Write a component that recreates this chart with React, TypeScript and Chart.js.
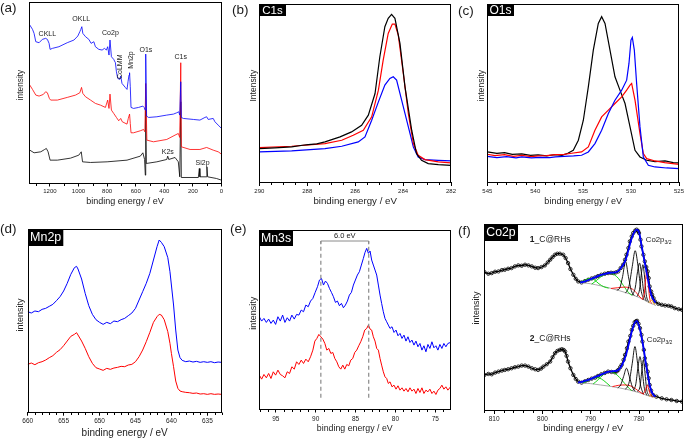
import React, { useEffect, useRef } from 'react';
import { Chart, registerables } from 'chart.js';
Chart.register(...registerables);

const FONT = "'Liberation Sans', Arial, Helvetica, sans-serif";
type Pair = [number, number];

// ---------- (a) survey ----------
const surveyTicks = [0, 200, 400, 600, 800, 1000, 1200];
const surveyBlue: Pair[] = [[1341,470],[1322,457],[1311,445],[1299,420],[1276,417],[1253,427],[1230,430],[1218,427],[1206,415],[1199,397],[1183,400],[1137,405],[1079,417],[1032,425],[1005,437],[991,450],[984,457],[977,465],[970,445],[951,435],[928,427],[912,415],[893,420],[882,405],[858,397],[835,395],[819,400],[805,395],[796,405],[787,380],[780,425],[770,375],[754,367],[742,357],[735,330],[726,310],[712,307],[705,317],[696,295],[673,283],[661,277],[654,300],[647,320],[643,327],[638,285],[633,223],[615,220],[580,223],[550,227],[541,223],[534,215],[530,383],[524,197],[510,193],[452,195],[383,200],[336,203],[313,207],[299,210],[292,200],[285,300],[281,193],[267,190],[197,187],[151,185],[116,193],[104,195],[93,187],[58,190],[46,180],[23,170],[0,160]];
const surveyRed: Pair[] = [[1341,290],[1322,277],[1299,260],[1276,257],[1246,262],[1230,270],[1218,267],[1204,250],[1195,245],[1148,245],[1079,253],[1021,260],[991,267],[979,283],[970,265],[951,255],[916,245],[882,235],[847,230],[812,223],[796,245],[787,220],[780,263],[770,215],[754,205],[735,193],[719,183],[705,190],[694,180],[661,173],[652,190],[643,203],[638,175],[633,147],[615,147],[568,153],[545,157],[536,150],[530,295],[522,125],[476,120],[383,127],[325,140],[302,145],[292,133],[285,357],[281,105],[220,97],[151,97],[104,103],[58,95],[23,90],[0,83]];
const surveyBlack: Pair[] = [[1341,95],[1311,87],[1264,90],[1237,97],[1225,100],[1213,90],[1199,65],[1148,65],[1056,71],[998,80],[981,90],[972,60],[916,58],[800,60],[661,65],[568,77],[550,87],[538,67],[533,20],[530,215],[526,55],[452,60],[383,67],[376,77],[369,67],[325,73],[302,60],[292,15],[285,240],[281,13],[162,13],[155,40],[151,15],[107,15],[102,45],[97,15],[35,10],[0,5]];

// ---------- (b) C1s ----------
const c1sTicks = [282, 284, 286, 288, 290];
const c1sBlack: Pair[] = [[290,100],[289.35,102],[288.65,105],[288.2,110],[287.96,112],[287.6,114],[287.26,120],[286.63,135],[286.15,150],[285.73,170],[285.45,200],[285.17,265],[284.97,375],[284.76,465],[284.62,490],[284.48,502],[284.34,490],[284.13,415],[283.92,285],[283.64,155],[283.44,85],[283.23,65],[282.95,55],[282.53,52],[282,50]];
const c1sRed: Pair[] = [[290,103],[288.65,107],[287.26,115],[286.56,125],[286.08,140],[285.66,155],[285.31,195],[285.03,275],[284.83,365],[284.62,445],[284.45,473],[284.34,473],[284.2,440],[283.99,325],[283.78,205],[283.57,115],[283.37,80],[283.09,67],[282.53,60],[282,57]];
const c1sBlue: Pair[] = [[290,90],[288.65,93],[287.26,100],[286.56,107],[285.87,120],[285.59,135],[285.31,185],[285.03,240],[284.76,290],[284.55,310],[284.41,315],[284.27,305],[284.06,245],[283.78,165],[283.57,105],[283.37,75],[283.09,67],[282.53,65],[282,63]];

// ---------- (c) O1s ----------
const o1sTicks = [525, 530, 535, 540, 545];
const o1sBlack: Pair[] = [[545,90],[544,86],[543.2,88],[542.4,83],[541.4,84],[540.5,80],[539.7,81],[538.8,78],[537.9,82],[537.2,80],[536.6,86],[536.03,95],[535.5,125],[534.98,185],[534.46,285],[533.94,395],[533.42,475],[533.07,495],[532.72,475],[532.2,395],[531.68,315],[531.16,275],[530.63,235],[530.11,165],[529.59,95],[529.07,75],[528.37,65],[527.5,61],[526.46,63],[525.6,58],[525,57]];
const o1sRed: Pair[] = [[545,83],[544.2,79],[543.2,82],[542.3,77],[541.4,80],[540.4,76],[539.7,78],[538.8,79],[537.9,82],[537,83],[536.2,86],[535.16,90],[534.46,105],[533.77,155],[533.07,195],[532.37,215],[531.68,235],[530.98,255],[530.46,275],[530.11,290],[529.94,295],[529.59,245],[529.07,145],[528.72,85],[528.37,70],[527.5,63],[526.5,58],[525,53]];
const o1sBlue: Pair[] = [[545,77],[544,73],[543,76],[542,72],[541.4,75],[540.4,72],[539.5,74],[538.5,73],[537.9,75],[537,77],[536,78],[535.16,80],[534.46,90],[533.77,115],[533.07,155],[532.37,205],[531.68,245],[530.98,275],[530.46,305],[530.22,355],[530.01,425],[529.87,433],[529.66,395],[529.42,295],[529.07,165],[528.72,75],[528.2,50],[527.5,45],[526.3,42],[525,40]];

// ---------- (d) Mn2p ----------
const mn2pTicks = [635, 640, 645, 650, 655, 660];
const mn2pEnergy = [660,659.5,659,658.5,658,657.5,657,656.5,656,655.5,655,654.5,654,653.5,653.2,653,652.5,652,651.5,651,650.5,650,649.5,649,648.5,648,647.5,647,646.5,646,645.5,645,644.5,644,643.5,643,642.5,642,641.7,641.4,641,640.5,640.2,640,639.7,639.4,639.1,638.8,638.5,638,637.5,637,636.5,636,635.5,635,634.5,634,633.5,633];
const mn2pBlue = [300,296,302,300,307,310,316,322,333,345,362,385,412,432,436,428,398,355,318,292,276,268,262,268,264,272,270,276,280,288,296,310,335,360,385,415,455,495,515,508,495,462,420,380,320,245,185,162,154,150,152,149,151,148,150,148,150,147,149,148];
const mn2pRed = [142,146,141,147,150,155,162,168,178,186,198,212,226,232,237,230,212,190,165,145,132,128,124,130,127,131,133,136,135,140,142,150,165,185,210,238,268,285,292,290,276,240,205,175,135,92,70,62,60,58,57,55,56,53,54,52,54,52,53,52];

// ---------- (e) Mn3s ----------
const mn3sTicks = [75, 80, 85, 90, 95];
const mn3sBlue: Pair[] = [[97.06,275],[96.77,262],[96.48,270],[96.18,258],[95.89,268],[95.6,255],[95.31,265],[95.02,252],[94.73,275],[94.43,262],[94.14,280],[93.85,258],[93.56,272],[93.27,262],[92.98,280],[92.68,268],[92.39,282],[92.1,280],[91.81,295],[91.52,290],[91.23,310],[90.93,305],[90.64,322],[90.35,330],[90.06,348],[89.77,365],[89.52,385],[89.27,390],[89.02,370],[88.77,382],[88.52,375],[88.27,360],[88.02,348],[87.77,335],[87.52,318],[87.27,322],[87.02,308],[86.77,315],[86.52,302],[86.27,310],[86.02,322],[85.77,340],[85.52,348],[85.27,370],[85.02,385],[84.77,400],[84.52,410],[84.27,430],[84.02,450],[83.81,468],[83.6,480],[83.39,465],[83.18,472],[82.98,445],[82.77,430],[82.56,415],[82.35,400],[82.14,370],[81.93,340],[81.73,315],[81.52,290],[81.31,270],[81.1,260],[80.89,250],[80.68,240],[80.43,245],[80.18,228],[79.93,235],[79.68,218],[79.43,225],[79.18,210],[78.93,220],[78.68,202],[78.43,215],[78.18,198],[77.93,205],[77.68,190],[77.43,202],[77.18,185],[76.93,195],[76.68,175],[76.43,188],[76.18,170],[75.93,192],[75.68,180],[75.43,200],[75.18,182],[74.93,188],[74.68,175],[74.43,192],[74.18,180],[73.93,195],[73.68,185],[73.43,195],[73.1,198]];
const mn3sRed: Pair[] = [[97.06,100],[96.77,88],[96.48,102],[96.18,92],[95.89,105],[95.6,90],[95.31,110],[95.02,100],[94.73,115],[94.43,102],[94.14,98],[93.85,92],[93.56,110],[93.27,105],[92.98,125],[92.68,118],[92.39,140],[92.1,132],[91.81,145],[91.52,135],[91.23,148],[90.93,140],[90.64,155],[90.35,175],[90.1,202],[89.85,210],[89.6,222],[89.35,215],[89.1,208],[88.85,195],[88.6,175],[88.35,180],[88.1,165],[87.85,168],[87.6,150],[87.35,140],[87.1,125],[86.85,118],[86.6,130],[86.35,118],[86.1,132],[85.85,128],[85.6,145],[85.35,150],[85.1,168],[84.85,175],[84.6,188],[84.35,200],[84.1,215],[83.85,235],[83.6,240],[83.39,250],[83.18,238],[82.98,235],[82.77,215],[82.56,202],[82.35,180],[82.14,175],[81.93,150],[81.73,130],[81.52,110],[81.31,95],[81.1,90],[80.89,75],[80.68,80],[80.43,65],[80.18,70],[79.93,58],[79.68,68],[79.43,55],[79.18,62],[78.93,52],[78.68,60],[78.43,50],[78.18,62],[77.93,52],[77.68,58],[77.43,45],[77.18,60],[76.93,48],[76.68,62],[76.43,45],[76.18,55],[75.93,50],[75.68,58],[75.43,45],[75.18,52],[74.93,42],[74.68,55],[74.43,60],[74.18,70],[73.93,58],[73.68,65],[73.43,55],[73.1,65]];
const mn3sSplit = [89.35, 83.35];

// ---------- (f) Co2p ----------
const co2pTicks = [780, 790, 800, 810];
const co2pData1: Pair[] = [[812.0,413],[811.2,408],[810.5,410],[809.8,414],[809.1,415],[808.4,419],[807.8,420],[807.1,423],[806.4,425],[805.7,430],[805.0,433],[804.3,432],[803.6,435],[802.9,433],[802.2,430],[801.5,426],[800.9,425],[800.2,428],[799.5,433],[798.9,442],[798.4,450],[797.9,458],[797.4,465],[796.9,468],[796.4,468],[795.7,465],[795.2,455],[794.7,440],[794.2,422],[793.6,405],[793.1,393],[792.6,385],[791.9,382],[791.2,386],[790.5,390],[789.8,394],[789.1,397],[788.5,401],[787.8,405],[787.1,408],[786.4,410],[785.8,411],[785.3,410],[784.8,412],[784.3,415],[783.8,425],[783.3,435],[782.9,450],[782.6,465],[782.2,485],[781.9,505],[781.5,520],[781.2,530],[780.8,537],[780.5,540],[780.2,536],[780.0,530],[779.7,510],[779.5,490],[779.1,465],[778.8,445],[778.5,428],[778.2,415],[778.0,395],[777.8,370],[777.5,355],[777.3,345],[777.0,335],[776.7,325],[776.0,318],[775.3,315],[774.6,313],[773.9,312],[773.3,310],[772.6,305],[771.8,302],[771.1,300]];
const co2pData2: Pair[] = [[812.0,105],[811.2,108],[810.5,107],[809.8,112],[809.1,115],[808.4,118],[807.8,120],[807.1,122],[806.4,125],[805.7,128],[805.0,130],[804.3,133],[803.6,133],[802.9,130],[802.2,125],[801.5,122],[800.9,120],[800.3,124],[799.8,130],[799.1,137],[798.4,145],[797.9,158],[797.4,170],[796.9,177],[796.4,180],[796.0,182],[795.6,180],[795.3,175],[795.0,162],[794.7,145],[794.2,125],[793.6,105],[793.1,93],[792.6,85],[791.9,82],[791.2,86],[790.5,90],[789.8,94],[789.1,97],[788.5,102],[787.8,107],[787.1,111],[786.4,115],[785.7,114],[785.0,113],[784.6,116],[784.3,120],[783.9,128],[783.6,135],[783.2,150],[782.9,165],[782.5,185],[782.2,205],[781.8,222],[781.5,240],[781.2,252],[780.9,263],[780.6,266],[780.4,267],[780.1,258],[779.8,245],[779.5,225],[779.3,205],[779.0,180],[778.8,155],[778.5,135],[778.2,115],[778.0,95],[777.8,75],[777.5,58],[777.1,45],[776.4,40],[775.3,35],[774.3,32],[773.3,30],[772.2,27],[771.1,25]];
const co2pBg1: Pair[] = [[792.2,382],[790,378],[788,372],[786,365],[784,357],[782,348],[780,337],[779,330],[778,322],[777,316],[776.5,313]];
const co2pGreen1a: Pair[] = [[792.2,382],[791.3,388],[790.3,394],[789.3,390],[788.3,378],[787.3,369],[786.3,365]];
const co2pGreen1b: Pair[] = [[789.8,377],[788.8,388],[787.8,400],[786.8,408],[786,410],[785.2,406],[784.2,393],[783.2,372],[782.2,352],[781.4,343]];
const co2pRedB1: Pair[] = [[785.8,364],[784.5,366],[783,368],[781.6,364],[780.6,352],[779.8,338],[779.2,331]];
const co2pPk1a: Pair[] = [[784.6,359],[784.0,365],[783.4,400],[782.8,445],[782.2,400],[781.6,358],[781.0,343]];
const co2pPk1b: Pair[] = [[782.8,350],[782.1,370],[781.4,430],[780.8,477],[780.2,430],[779.6,360],[779.0,330]];
const co2pPk1c: Pair[] = [[781.4,344],[780.8,365],[780.3,415],[779.9,440],[779.5,410],[779.0,350],[778.5,326]];
const co2pPk1d: Pair[] = [[780.4,340],[779.9,360],[779.5,410],[779.2,435],[778.9,405],[778.5,345],[778.0,322]];
const co2pRed1: Pair[] = [[779.3,331],[778.9,350],[778.6,395],[778.4,417],[778.1,380],[777.8,335],[777.4,319]];
const co2pOr1: Pair[] = [[778.0,322],[777.6,326],[777.3,330],[777.0,320],[776.7,315]];
const co2pEnv1: Pair[] = [[792.2,382],[791,386],[790,392],[789,398],[788,404],[787,408],[786,411],[785,412],[784.3,416],[783.6,428],[783,442],[782.5,462],[782,490],[781.5,515],[781,532],[780.5,540],[780,532],[779.5,495],[779,455],[778.6,425],[778.2,395],[777.8,365],[777.4,342],[777,330],[776.6,322]];
const co2pBg2: Pair[] = [[792.6,82],[790,79],[788,75],[786,71],[784,66],[782,60],[780,52],[779,47],[778,42],[777,38],[776.5,36]];
const co2pGreen2a: Pair[] = [[791.6,81],[790.6,88],[789.6,95],[788.8,97],[787.8,93],[786.8,82],[786,72]];
const co2pGreen2b: Pair[] = [[789.5,78],[788.5,90],[787.5,105],[786.5,114],[786,115],[785,110],[784,97],[783,80],[782,64],[781.5,58]];
const co2pRedB2: Pair[] = [[785.5,70],[784.2,74],[782.8,75],[781.4,70],[780.4,60],[779.6,52],[779,47]];
const co2pPk2a: Pair[] = [[784.4,66],[783.8,75],[783.2,100],[782.6,125],[782.0,100],[781.4,70],[780.8,56]];
const co2pPk2b: Pair[] = [[782.8,62],[782.1,80],[781.4,140],[780.85,190],[780.3,140],[779.7,75],[779.1,48]];
const co2pPk2c: Pair[] = [[781.3,58],[780.7,75],[780.2,130],[779.8,160],[779.4,125],[778.9,65],[778.4,44]];
const co2pPk2d: Pair[] = [[780.3,55],[779.8,70],[779.4,120],[779.1,150],[778.8,115],[778.4,60],[777.9,42]];
const co2pRed2: Pair[] = [[779.2,48],[778.8,55],[778.5,68],[778.3,75],[778.0,62],[777.6,44],[777.2,39]];
const co2pOr2: Pair[] = [[777.9,41],[777.5,45],[777.2,47],[776.9,40],[776.6,37]];
const co2pEnv2: Pair[] = [[792.6,82],[791.5,86],[790.5,90],[789.5,96],[788.5,102],[787.5,108],[786.5,114],[785.5,116],[784.5,118],[783.8,128],[783.2,145],[782.6,170],[782,205],[781.5,235],[781,258],[780.5,267],[780,252],[779.5,220],[779,180],[778.6,140],[778.2,105],[777.8,75],[777.4,55],[777,45],[776.6,40]];

const pts = (p: Pair[]) => p.map(([x, y]) => ({ x, y }));
const zip = (xs: number[], ys: number[]) => xs.map((x, i) => ({ x, y: ys[i] }));

type Seg = { t: string; bold?: boolean; sub?: boolean };
type Note = { x: number; y: number; text?: string; segs?: Seg[]; size: number; rotate?: boolean; align?: 'left' | 'center' };
type Series = { data: { x: number; y: number }[]; color: string; width: number; dots?: boolean; smooth?: boolean };
type PanelCfg = {
  key: string; left: number; top: number; w: number; h: number;
  area: { l: number; t: number; r: number; b: number };
  xMin: number; xMax: number; majors: number[]; minor: number;
  yMin: number; yMax: number;
  tickFont: number; tickPad: number; titleSize: number; titlePad: number;
  yTitle: { text: string; x: number; y: number; size: number };
  tag?: { text: string; w: number; h: number; size: number };
  series: Series[]; notes?: Note[];
  vlines?: { x: number; y0: number; y1: number }[];
  bracket?: { x0: number; x1: number; y: number; drop: number };
};

const BLUE = '#0000ff', RED = '#ff0000', BLACK = '#000000', GREEN = '#00d000', GRAY = '#a0a0a0', ORANGE = '#ff9900';

const comp = (p: Pair[], color: string): Series => ({ data: pts(p), color, width: 0.9, smooth: true });

const panels: PanelCfg[] = [
  {
    key: 'a', left: 0, top: 0, w: 235, h: 215, area: { l: 28.5, t: 2, r: 221.5, b: 182.5 },
    xMin: 0, xMax: 1350, majors: surveyTicks, minor: 100, yMin: -2, yMax: 539,
    tickFont: 6, tickPad: 0.9, titleSize: 9, titlePad: 7.9,
    yTitle: { text: 'intensity', x: 20.5, y: 85, size: 8.3 },
    series: [
      { data: pts(surveyBlack), color: BLACK, width: 0.8 },
      { data: pts(surveyRed), color: RED, width: 0.8 },
      { data: pts(surveyBlue), color: BLUE, width: 0.8 },
    ],
    notes: [
      { x: 1218, y: 442, text: 'CKLL', size: 7 },
      { x: 981, y: 488, text: 'OKLL', size: 7 },
      { x: 777, y: 445, text: 'Co2p', size: 7 },
      { x: 712, y: 345, text: 'CoLMM', size: 7, rotate: true },
      { x: 633, y: 365, text: 'Mn2p', size: 7, rotate: true },
      { x: 529, y: 395, text: 'O1s', size: 7 },
      { x: 285, y: 373, text: 'C1s', size: 7 },
      { x: 376, y: 90, text: 'K2s', size: 7 },
      { x: 132, y: 55, text: 'Si2p', size: 7 },
    ],
  },
  {
    key: 'b', left: 235, top: 0, w: 225, h: 215, area: { l: 24.3, t: 4, r: 216, b: 182 },
    xMin: 282, xMax: 290, majors: c1sTicks, minor: 0.5, yMin: 0, yMax: 533,
    tickFont: 6, tickPad: 1.4, titleSize: 9.7, titlePad: 8.2,
    yTitle: { text: 'Intensity', x: 18.3, y: 85.7, size: 8.5 },
    tag: { text: 'C1s', w: 27, h: 12, size: 11.5 },
    series: [
      { data: pts(c1sBlue), color: BLUE, width: 1.2 },
      { data: pts(c1sRed), color: RED, width: 1.2 },
      { data: pts(c1sBlack), color: BLACK, width: 1.2 },
    ],
  },
  {
    key: 'c', left: 460, top: 0, w: 225, h: 215, area: { l: 27.3, t: 4, r: 219, b: 182 },
    xMin: 525, xMax: 545, majors: o1sTicks, minor: 1, yMin: 0, yMax: 533,
    tickFont: 6, tickPad: 2.1, titleSize: 9, titlePad: 7.9,
    yTitle: { text: 'intensity', x: 21.7, y: 85.7, size: 8.6 },
    tag: { text: 'O1s', w: 27, h: 12, size: 12 },
    series: [
      { data: pts(o1sBlack), color: BLACK, width: 1.2 },
      { data: pts(o1sRed), color: RED, width: 1.2 },
      { data: pts(o1sBlue), color: BLUE, width: 1.2 },
    ],
  },
  {
    key: 'd', left: 0, top: 215, w: 235, h: 224, area: { l: 27.7, t: 14, r: 221.7, b: 196.7 },
    xMin: 633, xMax: 660, majors: mn2pTicks, minor: 1, yMin: 0, yMax: 548,
    tickFont: 6.5, tickPad: 1.4, titleSize: 10, titlePad: 0,
    yTitle: { text: 'intensity', x: 20.7, y: 100, size: 9 },
    tag: { text: 'Mn2p', w: 35.3, h: 17, size: 12.5 },
    series: [
      { data: zip(mn2pEnergy, mn2pRed), color: RED, width: 1 },
      { data: zip(mn2pEnergy, mn2pBlue), color: BLUE, width: 1 },
    ],
  },
  {
    key: 'e', left: 235, top: 215, w: 225, h: 224, area: { l: 24, t: 15, r: 215.5, b: 193.5 },
    xMin: 73.1, xMax: 97.1, majors: mn3sTicks, minor: 1, yMin: 0, yMax: 535,
    tickFont: 6.5, tickPad: 2.6, titleSize: 8.8, titlePad: 5.4,
    yTitle: { text: 'intensity', x: 18.3, y: 98.3, size: 9 },
    tag: { text: 'Mn3s', w: 34, h: 16, size: 12.3 },
    series: [
      { data: pts(mn3sRed), color: RED, width: 1 },
      { data: pts(mn3sBlue), color: BLUE, width: 1 },
    ],
    vlines: mn3sSplit.map((x) => ({ x, y0: 32, y1: 502 })),
    bracket: { x0: mn3sSplit[0], x1: mn3sSplit[1], y: 502, drop: 10 },
    notes: [{ x: 86.35, y: 517, text: '6.0 eV', size: 7.5 }],
  },
  {
    key: 'f', left: 460, top: 215, w: 225, h: 224, area: { l: 24, t: 9, r: 222.5, b: 195 },
    xMin: 771, xMax: 812.1, majors: co2pTicks, minor: 2, yMin: 0, yMax: 557,
    tickFont: 6.5, tickPad: 1.1, titleSize: 9.3, titlePad: 5.1,
    yTitle: { text: 'intensity', x: 16.7, y: 93, size: 9 },
    tag: { text: 'Co2p', w: 34, h: 17, size: 12.3 },
    series: [
      { data: pts(co2pData1), color: BLACK, width: 1.3, dots: true },
      { data: pts(co2pData2), color: BLACK, width: 1.3, dots: true },
      comp(co2pBg1, GRAY), comp(co2pBg2, GRAY),
      comp(co2pGreen1a, GREEN), comp(co2pGreen1b, GREEN), comp(co2pGreen2a, GREEN), comp(co2pGreen2b, GREEN),
      comp(co2pRedB1, RED), comp(co2pRedB2, RED),
      comp(co2pPk1a, BLACK), comp(co2pPk1b, BLACK), comp(co2pPk1c, BLACK), comp(co2pPk1d, BLACK),
      comp(co2pPk2a, BLACK), comp(co2pPk2b, BLACK), comp(co2pPk2c, BLACK), comp(co2pPk2d, BLACK),
      comp(co2pRed1, RED), comp(co2pRed2, RED), comp(co2pOr1, ORANGE), comp(co2pOr2, ORANGE),
      { data: pts(co2pEnv1), color: BLUE, width: 1.8, smooth: true },
      { data: pts(co2pEnv2), color: BLUE, width: 1.8, smooth: true },
    ],
    notes: [
      { x: 798.4, y: 510, segs: [{ t: '1', bold: true }, { t: '_C@RHs' }], size: 8.5 },
      { x: 778.6, y: 510, segs: [{ t: 'Co2p' }, { t: '3/2', sub: true }], size: 7.8, align: 'left' },
      { x: 798.4, y: 215, segs: [{ t: '2', bold: true }, { t: '_C@RHs' }], size: 8.5 },
      { x: 778.4, y: 210, segs: [{ t: 'Co2p' }, { t: '3/2', sub: true }], size: 7.8, align: 'left' },
    ],
  },
];

const letters = [
  { t: '(a)', left: 0, top: 1 }, { t: '(b)', left: 232, top: 3 }, { t: '(c)', left: 458, top: 4 },
  { t: '(d)', left: 0, top: 222 }, { t: '(e)', left: 230, top: 222 }, { t: '(f)', left: 458, top: 224 },
];

function decor(c: PanelCfg) {
  return {
    id: 'decor_' + c.key,
    afterDatasetsDraw(chart: any) {
      const { ctx, chartArea: a, scales } = chart;
      const xs = scales.x, ys = scales.y;
      ctx.save();
      if (c.vlines) {
        ctx.strokeStyle = '#8a8a8a'; ctx.lineWidth = 1.2; ctx.setLineDash([4, 3]);
        for (const v of c.vlines) {
          const px = xs.getPixelForValue(v.x);
          ctx.beginPath(); ctx.moveTo(px, ys.getPixelForValue(v.y0)); ctx.lineTo(px, ys.getPixelForValue(v.y1)); ctx.stroke();
        }
        ctx.setLineDash([]);
      }
      if (c.bracket) {
        const br = c.bracket;
        const x0 = xs.getPixelForValue(br.x0), x1 = xs.getPixelForValue(br.x1);
        const y = ys.getPixelForValue(br.y), yd = ys.getPixelForValue(br.y - br.drop);
        ctx.strokeStyle = '#8a8a8a'; ctx.lineWidth = 1;
        ctx.beginPath(); ctx.moveTo(x0, yd); ctx.lineTo(x0, y); ctx.lineTo(x1, y); ctx.lineTo(x1, yd); ctx.stroke();
      }
      ctx.strokeStyle = '#000'; ctx.lineWidth = 1;
      const L = Math.round(a.left) + 0.5, R = Math.round(a.right) - 0.5;
      const T = Math.round(a.top) + 0.5, B = Math.round(a.bottom) + 0.5;
      ctx.strokeRect(L, T, R - L, B - T);
      ctx.beginPath();
      for (let k = Math.ceil(c.xMin / c.minor); k * c.minor <= c.xMax + 1e-9; k++) {
        const v = k * c.minor;
        if (c.majors.some((m) => Math.abs(m - v) < 1e-6)) continue;
        const px = Math.round(xs.getPixelForValue(v)) + 0.5;
        ctx.moveTo(px, B); ctx.lineTo(px, B + 2.5);
      }
      ctx.stroke();
      if (c.tag) {
        ctx.fillStyle = '#000';
        ctx.fillRect(Math.round(a.left), Math.round(a.top), c.tag.w, c.tag.h);
        ctx.fillStyle = '#fff'; ctx.font = `${c.tag.size}px ${FONT}`;
        ctx.textAlign = 'center'; ctx.textBaseline = 'middle';
        ctx.fillText(c.tag.text, Math.round(a.left) + c.tag.w / 2, Math.round(a.top) + c.tag.h / 2 + 0.5);
      }
      ctx.fillStyle = '#222'; ctx.font = `${c.yTitle.size}px ${FONT}`;
      ctx.textAlign = 'center'; ctx.textBaseline = 'middle';
      ctx.save(); ctx.translate(c.yTitle.x, c.yTitle.y); ctx.rotate(-Math.PI / 2);
      ctx.fillText(c.yTitle.text, 0, 0); ctx.restore();
      for (const n of c.notes || []) {
        const px = xs.getPixelForValue(n.x), py = ys.getPixelForValue(n.y);
        ctx.fillStyle = '#1a1a1a'; ctx.textBaseline = 'middle';
        if (n.text) {
          ctx.font = `${n.size}px ${FONT}`;
          ctx.textAlign = n.align || 'center';
          if (n.rotate) {
            ctx.save(); ctx.translate(px, py); ctx.rotate(-Math.PI / 2); ctx.fillText(n.text, 0, 0); ctx.restore();
          } else ctx.fillText(n.text, px, py);
        } else if (n.segs) {
          const fontOf = (s: Seg) => `${s.bold ? 'bold ' : ''}${s.sub ? n.size * 0.65 : n.size}px ${FONT}`;
          let total = 0;
          for (const s of n.segs) { ctx.font = fontOf(s); total += ctx.measureText(s.t).width; }
          let cx = n.align === 'left' ? px : px - total / 2;
          ctx.textAlign = 'left';
          for (const s of n.segs) {
            ctx.font = fontOf(s);
            ctx.fillText(s.t, cx, py + (s.sub ? n.size * 0.35 : 0));
            cx += ctx.measureText(s.t).width;
          }
        }
      }
      ctx.restore();
    },
  };
}

function buildConfig(c: PanelCfg): any {
  const n = c.series.length;
  return {
    type: 'line',
    data: {
      datasets: c.series.map((s, i) => ({
        data: s.data,
        borderColor: s.color,
        backgroundColor: s.color,
        borderWidth: s.width,
        pointRadius: s.dots ? 1.7 : 0,
        pointHoverRadius: 0,
        pointBorderWidth: 0.8,
        pointBorderColor: s.color,
        pointBackgroundColor: 'rgba(255,255,255,0)',
        tension: s.smooth ? 0.4 : 0,
        cubicInterpolationMode: s.smooth ? 'monotone' : 'default',
        fill: false,
        order: n - i,
      })),
    },
    options: {
      animation: false,
      responsive: false,
      maintainAspectRatio: false,
      events: [],
      layout: { padding: { left: 0, bottom: 0, top: c.area.t, right: c.w - c.area.r } },
      plugins: { legend: { display: false }, tooltip: { enabled: false } },
      scales: {
        x: {
          type: 'linear', reverse: true, min: c.xMin, max: c.xMax,
          afterBuildTicks: (s: any) => { s.ticks = c.majors.slice().sort((p, q) => p - q).map((v) => ({ value: v })); },
          afterFit: (s: any) => { s.height = c.h - c.area.b; },
          ticks: {
            autoSkip: false, maxRotation: 0, minRotation: 0, padding: c.tickPad, color: '#222',
            font: { family: FONT, size: c.tickFont }, callback: (v: any) => String(v),
          },
          grid: { display: true, drawOnChartArea: false, drawTicks: true, tickLength: 4, tickColor: '#000', tickWidth: 1 },
          border: { display: false },
          title: {
            display: true, text: 'binding energy / eV', color: '#222',
            font: { family: FONT, size: c.titleSize }, padding: { top: 0, bottom: c.titlePad },
          },
        },
        y: {
          type: 'linear', min: c.yMin, max: c.yMax,
          afterFit: (s: any) => { s.width = c.area.l; },
          ticks: { display: false }, grid: { display: false }, border: { display: false },
        },
      },
    },
    plugins: [decor(c)],
  };
}

function Panel({ cfg }: { cfg: PanelCfg }) {
  const ref = useRef<HTMLCanvasElement>(null);
  useEffect(() => {
    const chart = new Chart(ref.current as HTMLCanvasElement, buildConfig(cfg));
    return () => chart.destroy();
  }, [cfg]);
  return (
    <canvas
      ref={ref}
      width={cfg.w}
      height={cfg.h}
      style={{ position: 'absolute', left: cfg.left, top: cfg.top, width: cfg.w, height: cfg.h }}
    />
  );
}

export default function App() {
  return (
    <div style={{ position: 'absolute', left: 0, top: 0, width: 685, height: 439, background: '#fff', overflow: 'hidden' }}>
      {panels.map((p) => <Panel key={p.key} cfg={p} />)}
      {letters.map((l) => (
        <div key={l.t} style={{ position: 'absolute', left: l.left, top: l.top, fontFamily: FONT, fontSize: 13.5, lineHeight: '13.5px', color: '#1a1a1a' }}>
          {l.t}
        </div>
      ))}
    </div>
  );
}
